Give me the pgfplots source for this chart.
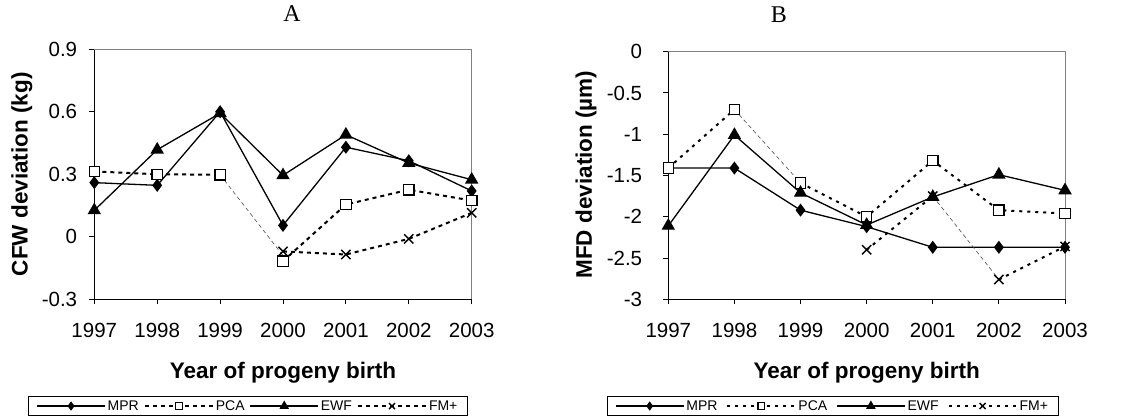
\documentclass[border=0pt]{standalone}
\usepackage{fontspec}
\setmainfont{Liberation Sans}
\newfontfamily\seriffont{Liberation Serif}
\usepackage{pgfplots}
\pgfplotsset{compat=1.18}
\pgfplotsset{
  panel/.style={
    scale only axis, clip=false,
    xmin=1997, xmax=2003, xtick={1997,1998,1999,2000,2001,2002,2003},
    xticklabels={1997,1998,1999,2000,2001,2002,2003},
    axis x line*=bottom, axis y line*=left,
    axis line style={line width=1pt,black,-},
    tick align=outside, major tick length=5pt,
    tick style={line width=1pt,black},
    ticklabel style={font=\fontsize{20.5}{20.5}\selectfont},
    xticklabel style={anchor=north, inner sep=0pt, yshift=-19pt},
    yticklabel style={anchor=east, inner sep=0pt, xshift=-12pt},
    unbounded coords=jump,
    label style={font=\bfseries\fontsize{22.5}{22.5}\selectfont},
    title style={font=\seriffont\fontsize{24}{24}\selectfont, anchor=center},
    legend columns=4,
    legend style={draw=black, line width=0.8pt, font=\fontsize{14}{14}\selectfont,
      inner xsep=8pt, inner ysep=2pt, anchor=center,
      /tikz/every odd column/.append style={column sep=0pt},
      /tikz/every even column/.append style={column sep=3pt}},
    legend image code/.code={\draw[mark repeat=2,mark phase=2,every mark/.append style={scale=0.65}] plot coordinates {(0pt,0pt) (34pt,0pt) (68pt,0pt)};},
  },
  mpr/.style={black, line width=1.3pt, mark=diamond*, mark size=5.5pt, mark options={solid,fill=black}},
  pca/.style={black, line width=2pt, dash pattern=on 4pt off 4pt, mark=square*, mark size=5.2pt, mark options={solid,fill=white,draw=black,line width=1.2pt}},
  ewf/.style={black, line width=1.3pt, mark=triangle*, mark size=6.5pt, mark options={solid,fill=black}},
  fmp/.style={black, line width=2pt, dash pattern=on 4pt off 4pt, mark=x, mark size=6.5pt, mark options={solid,line width=1.4pt}},
  thinseg/.style={black!70, line width=0.6pt, dash pattern=on 4pt off 3pt, forget plot},
}
\begin{document}
\begin{tikzpicture}[x=1pt,y=1pt]
\path[use as bounding box] (0,0) rectangle (1139,-419);
% ---------------- Panel A
\begin{axis}[panel,
  at={(94.3pt,-299.3pt)}, anchor=south west,
  width=377.4pt, height=250pt,
  ymin=-0.3, ymax=0.9,
  ytick={-0.3,0,0.3,0.6,0.9}, yticklabels={-0.3,0,0.3,0.6,0.9},
  title={A}, title style={at={(axis description cs:0.524,1.117)}},
  xlabel={Year of progeny birth},
  xlabel style={at={(axis description cs:0.5,-0.294)}, anchor=center},
  ylabel={CFW deviation (kg)},
  ylabel style={at={(axis description cs:-0.192,0.5)}, anchor=center},
  legend style={at={(axis description cs:0.407,-0.427)}},
]
\addplot[mpr] coordinates {(1997,0.26) (1998,0.247) (1999,0.60) (2000,0.055) (2001,0.43) (2002,0.365) (2003,0.22)};
\addlegendentry{MPR}
\addplot[thinseg] coordinates {(1999,0.298) (2000,-0.09)};
\addplot[pca] coordinates {(1997,0.314) (1998,0.30) (1999,0.298) (1999.5,nan) (2000,-0.117) (2001,0.155) (2002,0.226) (2003,0.174)};
\addlegendentry{PCA}
\addplot[ewf] coordinates {(1997,0.127) (1998,0.418) (1999,0.593) (2000,0.295) (2001,0.49) (2002,0.354) (2003,0.274)};
\addlegendentry{EWF}
\addplot[fmp] coordinates {(2000,-0.07) (2001,-0.085) (2002,-0.01) (2003,0.115)};
\addlegendentry{FM+}
\draw[black!50, line width=1pt] (rel axis cs:0,1) -- (rel axis cs:1,1) -- (rel axis cs:1,0);
\end{axis}
% ---------------- Panel B
\begin{axis}[panel,
  at={(668.3pt,-299.3pt)}, anchor=south west,
  width=396.7pt, height=247.6pt,
  ymin=-3, ymax=0,
  ytick={-3,-2.5,-2,-1.5,-1,-0.5,0}, yticklabels={-3,-2.5,-2,-1.5,-1,-0.5,0},
  yticklabel style={xshift=-9pt},
  title={B}, title style={at={(axis description cs:0.279,1.125)}},
  xlabel={Year of progeny birth},
  xlabel style={at={(axis description cs:0.5,-0.298)}, anchor=center},
  ylabel={MFD deviation (µm)},
  ylabel style={at={(axis description cs:-0.2075,0.504)}, anchor=center},
  legend style={at={(axis description cs:0.414,-0.431)},
    /tikz/every even column/.append style={column sep=7pt}},
]
\addplot[mpr] coordinates {(1997,-1.41) (1998,-1.41) (1999,-1.92) (2000,-2.12) (2001,-2.37) (2002,-2.37) (2003,-2.37)};
\addlegendentry{MPR}
\addplot[thinseg] coordinates {(1998,-0.70) (1999,-1.59)};
\addplot[thinseg] coordinates {(2001,-1.75) (2002,-2.76)};
\addplot[pca, dash pattern=on 3pt off 5pt] coordinates {(1997,-1.41) (1998,-0.70) (1998.5,nan) (1999,-1.59) (2000,-2.0) (2001,-1.32) (2002,-1.92) (2003,-1.96)};
\addlegendentry{PCA}
\addplot[ewf] coordinates {(1997,-2.11) (1998,-1.01) (1999,-1.71) (2000,-2.10) (2001,-1.76) (2002,-1.49) (2003,-1.68)};
\addlegendentry{EWF}
\addplot[fmp, dash pattern=on 3pt off 5pt] coordinates {(2000,-2.40) (2001,-1.75) (2001.5,nan) (2002,-2.76) (2003,-2.36)};
\addlegendentry{FM+}
\draw[black!50, line width=1pt] (rel axis cs:0,1) -- (rel axis cs:1,1) -- (rel axis cs:1,0);
\end{axis}
\end{tikzpicture}
\end{document}
